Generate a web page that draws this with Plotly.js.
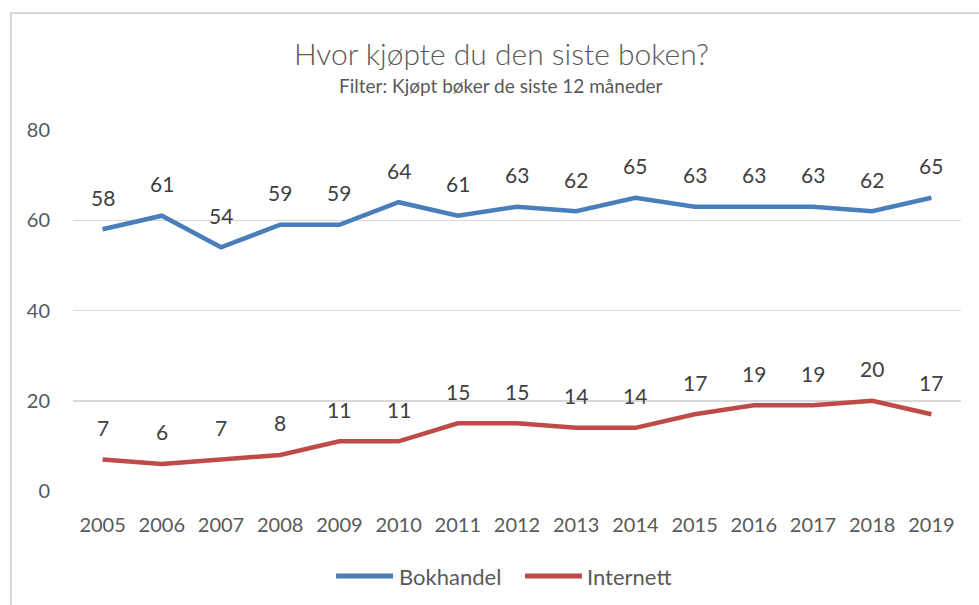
<!DOCTYPE html>
<html><head><meta charset="utf-8">
<script src="https://cdn.plot.ly/plotly-3.0.1.min.js"></script>
<style>
body{margin:0;background:#fff;}
#frame{position:absolute;left:10px;top:12px;width:980px;height:600px;border-left:2px solid #d9d9d9;border-top:2px solid #d9d9d9;}
#chart{position:absolute;left:0;top:0;width:979px;height:605px;}
</style></head>
<body><div id="frame"></div><div id="chart"></div>
<script>
const years = ['2005','2006','2007','2008','2009','2010','2011','2012','2013','2014','2015','2016','2017','2018','2019'];
const bokhandel = [58,61,54,59,59,64,61,63,62,65,63,63,63,62,65];
const internett = [7,6,7,8,11,11,15,15,14,14,17,19,19,20,17];
const seriesNames = ['Bokhandel', 'Internett'];
const titleText = 'Hvor kjøpte du den siste boken?';
const subtitleText = 'Filter: Kjøpt bøker de siste 12 måneder';
const yTicks = [0,20,40,60,80];

const FONT = 'Lato, "Open Sans", sans-serif';
const GREY = '#595959';
const COLORS = ['#4a7ebb', '#be4b48'];

const idx = years.map((_, i) => i);
const traces = [bokhandel, internett].map((s, k) => ({
  x: idx, y: s, name: seriesNames[k], type: 'scatter', mode: 'lines',
  line: {color: COLORS[k], width: 4.5}, showlegend: false
}));

const ann = [];
[bokhandel, internett].forEach(series => {
  series.forEach((v, i) => ann.push({x: i, y: v, xref: 'x', yref: 'y', text: String(v), showarrow: false,
    yshift: 32, font: {family: FONT, size: 21, color: '#404040'}}));
});
ann.push({xref: 'paper', yref: 'paper', x: 0.482, y: 1.213, yanchor: 'middle', text: titleText,
  showarrow: false, font: {family: FONT, size: 30, weight: 300, color: GREY}});
ann.push({xref: 'paper', yref: 'paper', x: 0.482, y: 1.122, yanchor: 'middle', text: subtitleText,
  showarrow: false, font: {family: FONT, size: 19, color: GREY}});

// custom legend (Excel-style long line samples)
const legY = -0.2355;
const legLines = [[0.2962, 0.3604, 0.3649], [0.509, 0.5732, 0.5766]];
const shapes = [];
legLines.forEach((p, k) => {
  shapes.push({type: 'line', xref: 'paper', yref: 'paper', x0: p[0], x1: p[1], y0: legY, y1: legY,
    line: {color: COLORS[k], width: 5}});
  ann.push({xref: 'paper', yref: 'paper', x: p[2], y: legY, xanchor: 'left', yanchor: 'middle',
    text: seriesNames[k], showarrow: false, font: {family: FONT, size: 22, color: GREY}});
});

const layout = {
  width: 979, height: 605,
  margin: {l: 73, r: 18, t: 130, b: 114},
  paper_bgcolor: 'rgba(0,0,0,0)', plot_bgcolor: 'rgba(0,0,0,0)',
  font: {family: FONT, color: GREY, size: 20},
  showlegend: false,
  xaxis: {range: [-0.5, 14.5], tickvals: idx, ticktext: years, showgrid: false, zeroline: false, showline: false,
    ticks: '', ticklabelstandoff: 20, tickfont: {family: FONT, size: 20, color: GREY}},
  yaxis: {range: [0, 80], tickvals: yTicks, showgrid: true, gridcolor: '#d9d9d9', gridwidth: 1.5,
    zeroline: false, showline: false, ticks: '', ticklabelstandoff: 22,
    tickfont: {family: FONT, size: 20, color: GREY}},
  shapes: shapes,
  annotations: ann
};
Plotly.newPlot('chart', traces, layout, {staticPlot: true});
</script></body></html>
